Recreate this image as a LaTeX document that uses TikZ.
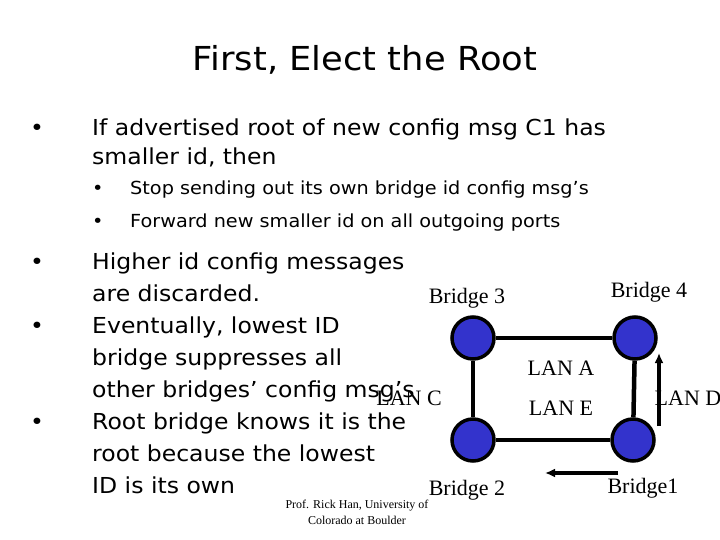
\documentclass[tikz,border=0pt]{standalone}
\usepackage{fontspec}
\setmainfont{DejaVu Sans}[FakeStretch=1.07]
\newfontfamily\serif{Liberation Serif}
\usetikzlibrary{arrows.meta}
\begin{document}
\begin{tikzpicture}[x=1pt,y=-1pt,
  br/.style={circle,draw=black,line width=3.5pt,fill=blue!75!black!80,minimum size=42pt,inner sep=0},
  lk/.style={line width=4.5pt},
  ar/.style={line width=3.5pt,-{Latex[length=10pt,width=9pt]}},
  lb/.style={font=\serif\fontsize{22}{22}\selectfont,inner sep=0},
  bt/.style={anchor=base west,inner sep=0,font=\fontsize{22}{22}\selectfont},
  st/.style={anchor=base west,inner sep=0,font=\fontsize{18}{18}\selectfont}]
\useasboundingbox (0,0) rectangle (720,540);
\node[inner sep=0] (title) at (365,60) {\fontsize{33}{33}\selectfont First, Elect the Root};
\foreach \y in {136,269,333,429} \node[bt] at (30,\y) {•};
\node[bt] (t1) at (92,136) {If advertised root of new config msg C1 has};
\node[bt] (t1b) at (92,165) {smaller id, then};
\node[st] (b2) at (92,195) {•};
\node[st] (b3) at (92,227) {•};
\node[st] (s1) at (130,195) {Stop sending out its own bridge id config msg’s};
\node[st] (s2) at (130,227) {Forward new smaller id on all outgoing ports};
\node[bt] (l1) at (92,269) {Higher id config messages};
\node[bt] (l2) at (92,301) {are discarded.};
\node[bt] (l3) at (92,333) {Eventually, lowest ID};
\node[bt] (l4) at (92,365) {bridge suppresses all};
\node[bt] (l5) at (92,397) {other bridges’ config msg’s};
\node[bt] (l6) at (92,429) {Root bridge knows it is the};
\node[bt] (l7) at (92,461) {root because the lowest};
\node[bt] (l8) at (92,493) {ID is its own};
\node[align=center,font=\serif\fontsize{12}{16}\selectfont] (cr) at (357,512) {Prof. Rick Han, University of\\Colorado at Boulder};
\node[br] (B3) at (473,338) {};
\node[br] (B4) at (635,338) {};
\node[br] (B2) at (473,440) {};
\node[br] (B1) at (633,440) {};
\draw[lk] (B3) -- (B4); \draw[lk] (B2) -- (B1);
\draw[lk] (B3) -- (B2); \draw[lk] (B4) -- (B1);
\node[lb] at (467,298) {Bridge 3};
\node[lb] at (649,292) {Bridge 4};
\node[lb] at (467,490) {Bridge 2};
\node[lb] at (643,488) {Bridge1};
\node[lb] at (561,368) {LAN A};
\node[lb] at (561,408) {LAN E};
\node[lb] at (409,398) {LAN C};
\node[lb] at (688,398) {LAN D};
\coordinate (d0) at (659,426); \coordinate (d1) at (659,353);
\coordinate (h0) at (618,473); \coordinate (h1) at (545,473);
\draw[ar] (d0) -- (d1);
\draw[ar] (h0) -- (h1);
\end{tikzpicture}
\end{document}
